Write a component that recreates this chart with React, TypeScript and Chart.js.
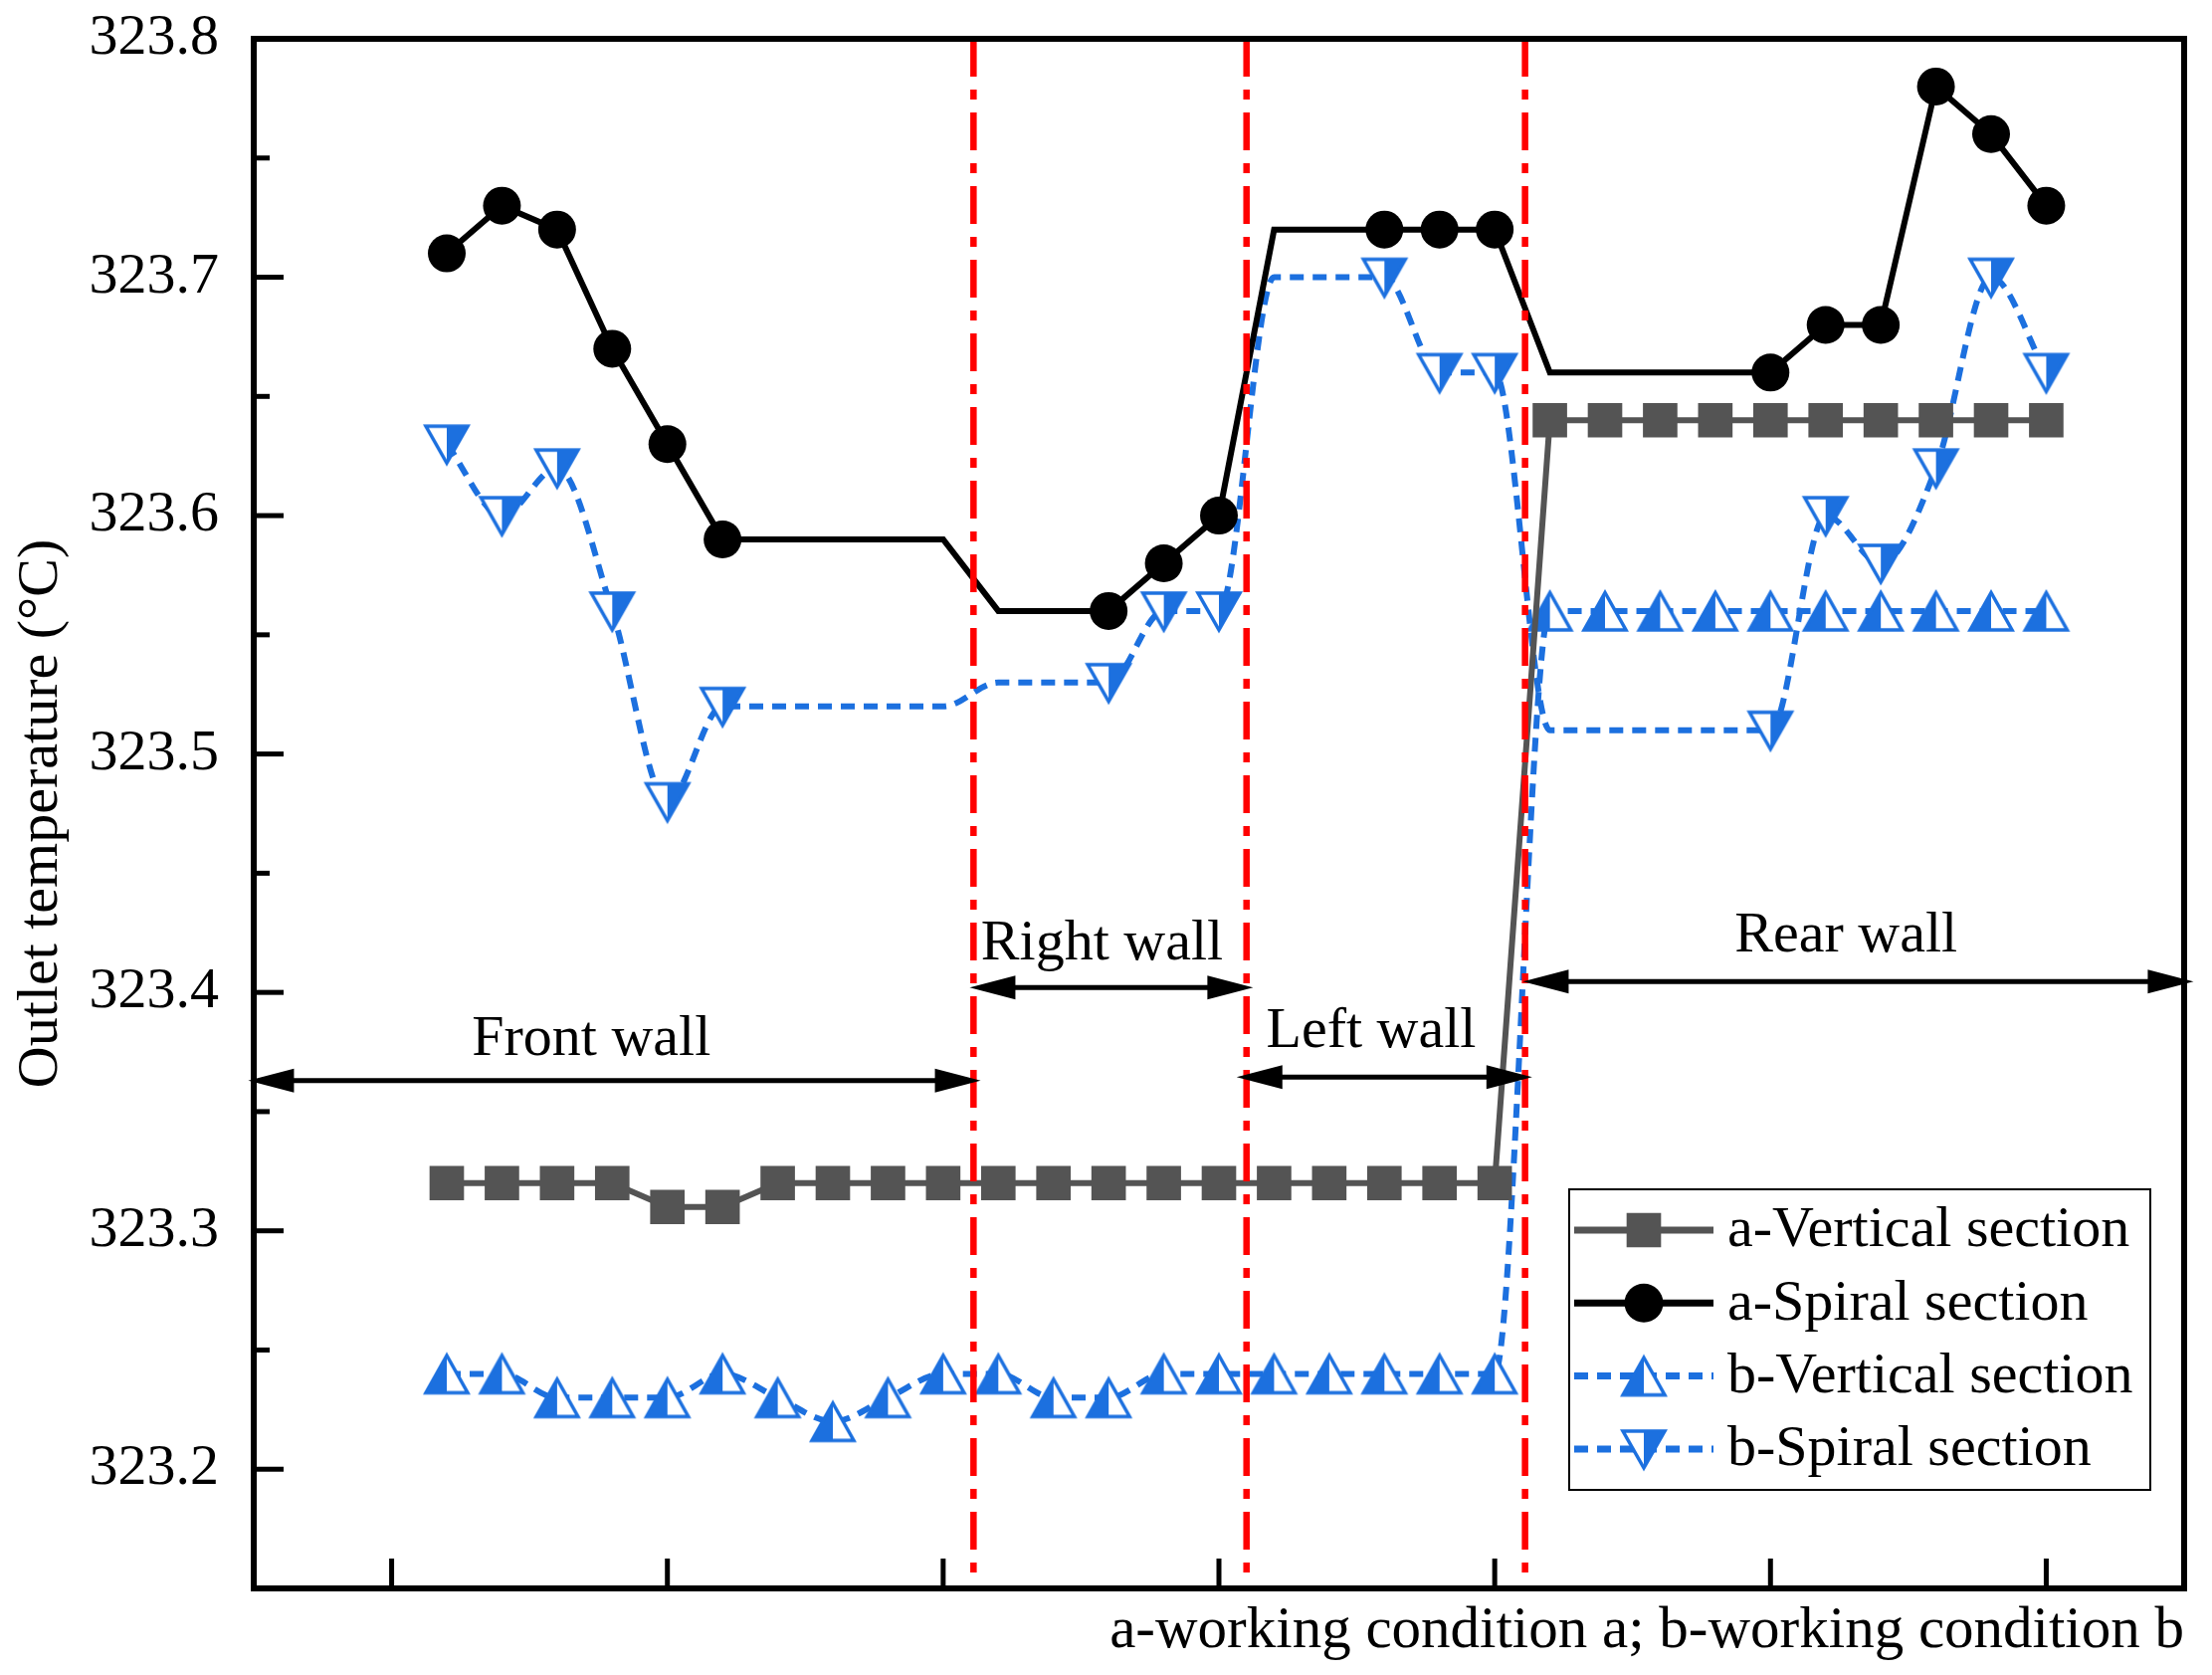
import { useEffect, useRef } from "react";
import { Chart, registerables } from "chart.js";
import { drawPoint } from "chart.js/helpers";

Chart.register(...registerables);

// positions along the furnace perimeter (tube index)
const POSITIONS = [
  1, 2, 3, 4, 5, 6, 7, 8, 9, 10, 11, 12, 13, 14, 15, 16, 17, 18, 19, 20, 21,
  22, 23, 24, 25, 26, 27, 28, 29, 30,
];

const A_VERTICAL = [
  323.32, 323.32, 323.32, 323.32, 323.31, 323.31, 323.32, 323.32, 323.32,
  323.32, 323.32, 323.32, 323.32, 323.32, 323.32, 323.32, 323.32, 323.32,
  323.32, 323.32, 323.64, 323.64, 323.64, 323.64, 323.64, 323.64, 323.64,
  323.64, 323.64, 323.64,
];
const A_SPIRAL = [
  323.71, 323.73, 323.72, 323.67, 323.63, 323.59, 323.59, 323.59, 323.59,
  323.59, 323.56, 323.56, 323.56, 323.58, 323.6, 323.72, 323.72, 323.72,
  323.72, 323.72, 323.66, 323.66, 323.66, 323.66, 323.66, 323.68, 323.68,
  323.78, 323.76, 323.73,
];
const B_VERTICAL = [
  323.24, 323.24, 323.23, 323.23, 323.23, 323.24, 323.23, 323.22, 323.23,
  323.24, 323.24, 323.23, 323.23, 323.24, 323.24, 323.24, 323.24, 323.24,
  323.24, 323.24, 323.56, 323.56, 323.56, 323.56, 323.56, 323.56, 323.56,
  323.56, 323.56, 323.56,
];
const B_SPIRAL = [
  323.63, 323.6, 323.62, 323.56, 323.48, 323.52, 323.52, 323.52, 323.52,
  323.52, 323.53, 323.53, 323.53, 323.56, 323.56, 323.7, 323.7, 323.7, 323.66,
  323.66, 323.51, 323.51, 323.51, 323.51, 323.51, 323.6, 323.58, 323.62, 323.7,
  323.66,
];

// spiral curves have no symbol at these positions
const SPIRAL_UNMARKED = [7, 8, 9, 10, 11, 12, 16, 17, 21, 22, 23, 24];

const Y_TICKS = [323.2, 323.3, 323.4, 323.5, 323.6, 323.7, 323.8];
const Y_MINOR = [323.25, 323.35, 323.45, 323.55, 323.65, 323.75];
const X_TICKS = [0, 5, 10, 15, 20, 25, 30];

// wall sections
const WALL_BOUNDS = [10.55, 15.5, 20.55];
const WALL_NAMES = ["Front wall", "Right wall", "Left wall", "Rear wall"];
const WALL_FROM = [-2.6, 10.48, 15.32, 20.51];
const WALL_TO = [10.68, 15.62, 20.68, 32.67];
const WALL_ARROW_Y = [323.363, 323.402, 323.3645, 323.4046];
const WALL_LABEL_X = [3.62, 12.88, 17.76, 26.37];
const WALL_LABEL_Y = [323.3736, 323.4137, 323.377, 323.417];

const FONT = '"Liberation Serif", "Times New Roman", serif';
const BLUE = "#1c70df";
const GRAY = "#545454";

function halfTriangle(up: boolean) {
  const c = document.createElement("canvas");
  c.width = 50;
  c.height = 48;
  const g = c.getContext("2d")!;
  const top = 5.5;
  const bot = 43;
  const pts = up
    ? [
        [25, top],
        [4, bot],
        [46, bot],
      ]
    : [
        [4, top + 0.5],
        [46, top + 0.5],
        [25, bot],
      ];
  g.beginPath();
  g.moveTo(pts[0][0], pts[0][1]);
  g.lineTo(pts[1][0], pts[1][1]);
  g.lineTo(pts[2][0], pts[2][1]);
  g.closePath();
  g.fillStyle = "#fff";
  g.fill();
  g.beginPath();
  if (up) {
    g.moveTo(25, top);
    g.lineTo(4, bot);
    g.lineTo(25, bot);
  } else {
    g.moveTo(25, top + 0.5);
    g.lineTo(46, top + 0.5);
    g.lineTo(25, bot);
  }
  g.closePath();
  g.fillStyle = BLUE;
  g.fill();
  g.beginPath();
  g.moveTo(pts[0][0], pts[0][1]);
  g.lineTo(pts[1][0], pts[1][1]);
  g.lineTo(pts[2][0], pts[2][1]);
  g.closePath();
  g.strokeStyle = BLUE;
  g.lineWidth = 3.5;
  g.stroke();
  return c;
}

function drawArrow(ctx: CanvasRenderingContext2D, x1: number, x2: number, y: number) {
  const head = 46;
  const half = 12;
  ctx.beginPath();
  ctx.moveTo(x1 + head - 4, y);
  ctx.lineTo(x2 - head + 4, y);
  ctx.stroke();
  ctx.beginPath();
  ctx.moveTo(x1, y);
  ctx.lineTo(x1 + head, y - half);
  ctx.lineTo(x1 + head, y + half);
  ctx.closePath();
  ctx.fill();
  ctx.beginPath();
  ctx.moveTo(x2, y);
  ctx.lineTo(x2 - head, y - half);
  ctx.lineTo(x2 - head, y + half);
  ctx.closePath();
  ctx.fill();
}

const overlay = {
  id: "overlay",
  afterDatasetsDraw(chart: any) {
    const { ctx, chartArea, scales } = chart;
    ctx.save();
    ctx.strokeStyle = "#ff0000";
    ctx.lineWidth = 6.5;
    ctx.setLineDash([38, 13, 10, 13]);
    WALL_BOUNDS.forEach((b) => {
      const px = scales.x.getPixelForValue(b);
      ctx.beginPath();
      ctx.moveTo(px, chartArea.top);
      ctx.lineTo(px, chartArea.bottom);
      ctx.stroke();
    });
    ctx.restore();
  },
  afterDraw(chart: any) {
    const { ctx, chartArea, scales } = chart;
    const xs = scales.x;
    const ys = scales.y;
    ctx.save();

    // wall arrows and names
    ctx.strokeStyle = "#000";
    ctx.fillStyle = "#000";
    ctx.lineWidth = 5;
    ctx.setLineDash([]);
    WALL_NAMES.forEach((name, i) => {
      drawArrow(
        ctx,
        xs.getPixelForValue(WALL_FROM[i]),
        xs.getPixelForValue(WALL_TO[i]),
        ys.getPixelForValue(WALL_ARROW_Y[i])
      );
      ctx.font = `58px ${FONT}`;
      ctx.textAlign = "center";
      ctx.textBaseline = "alphabetic";
      ctx.fillText(
        name,
        xs.getPixelForValue(WALL_LABEL_X[i]),
        ys.getPixelForValue(WALL_LABEL_Y[i])
      );
    });

    // frame and inward ticks
    const { left, right, top, bottom } = chartArea;
    ctx.lineWidth = 6;
    ctx.strokeRect(left, top, right - left, bottom - top);
    ctx.lineWidth = 5;
    Y_TICKS.forEach((v) => {
      const py = ys.getPixelForValue(v);
      ctx.beginPath();
      ctx.moveTo(left, py);
      ctx.lineTo(left + 30, py);
      ctx.stroke();
    });
    Y_MINOR.forEach((v) => {
      const py = ys.getPixelForValue(v);
      ctx.beginPath();
      ctx.moveTo(left, py);
      ctx.lineTo(left + 16, py);
      ctx.stroke();
    });
    X_TICKS.forEach((v) => {
      const px = xs.getPixelForValue(v);
      ctx.beginPath();
      ctx.moveTo(px, bottom);
      ctx.lineTo(px, bottom - 30);
      ctx.stroke();
    });

    // legend
    const L = right - 618;
    const T = bottom - 401;
    ctx.fillStyle = "#fff";
    ctx.fillRect(L, T, 584, 302);
    ctx.strokeStyle = "#000";
    ctx.lineWidth = 2;
    ctx.strokeRect(L, T, 584, 302);
    chart.data.datasets.forEach((ds: any, i: number) => {
      const cy = T + 41 + i * 73.3;
      ctx.save();
      ctx.strokeStyle = ds.borderColor;
      ctx.lineWidth = ds.borderWidth + 1;
      ctx.setLineDash(ds.borderDash || []);
      ctx.beginPath();
      ctx.moveTo(L + 5, cy);
      ctx.lineTo(L + 145, cy);
      ctx.stroke();
      ctx.setLineDash([]);
      ctx.fillStyle = ds.pointBackgroundColor;
      ctx.strokeStyle = ds.pointBorderColor;
      drawPoint(
        ctx,
        {
          pointStyle: ds.pointStyle,
          radius: ds.legendRadius,
          rotation: 0,
          borderWidth: 0,
        },
        L + 75,
        cy
      );
      ctx.restore();
      ctx.fillStyle = "#000";
      ctx.font = `58px ${FONT}`;
      ctx.textAlign = "left";
      ctx.textBaseline = "middle";
      ctx.fillText(ds.label, L + 159, cy + 1);
    });

    ctx.restore();
  },
};

export default function App() {
  const canvasRef = useRef<HTMLCanvasElement | null>(null);

  useEffect(() => {
    document.body.style.margin = "0";
    if (!canvasRef.current) return;
    const ctx = canvasRef.current.getContext("2d");
    if (!ctx) return;

    const upTri = halfTriangle(true);
    const downTri = halfTriangle(false);
    const spiralRadius = (r: number) =>
      POSITIONS.map((p) => (SPIRAL_UNMARKED.includes(p) ? 0 : r));
    const toPoints = (vals: number[]) =>
      POSITIONS.map((p, i) => ({ x: p, y: vals[i] }));

    const chart = new Chart(ctx, {
      type: "line",
      data: {
        datasets: [
          {
            label: "a-Vertical section",
            data: toPoints(A_VERTICAL),
            borderColor: GRAY,
            borderWidth: 6,
            pointStyle: "rect",
            pointRadius: 24.5,
            legendRadius: 24.5,
            pointBackgroundColor: GRAY,
            pointBorderColor: GRAY,
            pointBorderWidth: 0,
            tension: 0,
          } as any,
          {
            label: "a-Spiral section",
            data: toPoints(A_SPIRAL),
            borderColor: "#000",
            borderWidth: 6,
            pointStyle: "circle",
            pointRadius: spiralRadius(19),
            legendRadius: 19.5,
            pointBackgroundColor: "#000",
            pointBorderColor: "#000",
            pointBorderWidth: 0,
            tension: 0,
          } as any,
          {
            label: "b-Vertical section",
            data: toPoints(B_VERTICAL),
            borderColor: BLUE,
            borderWidth: 6,
            borderDash: [14, 9],
            pointStyle: upTri,
            pointRadius: 20,
            legendRadius: 20,
            pointBackgroundColor: BLUE,
            pointBorderColor: BLUE,
            cubicInterpolationMode: "monotone",
          } as any,
          {
            label: "b-Spiral section",
            data: toPoints(B_SPIRAL),
            borderColor: BLUE,
            borderWidth: 6,
            borderDash: [14, 9],
            pointStyle: downTri,
            pointRadius: spiralRadius(20),
            legendRadius: 20,
            pointBackgroundColor: BLUE,
            pointBorderColor: BLUE,
            cubicInterpolationMode: "monotone",
          } as any,
        ],
      },
      options: {
        responsive: true,
        maintainAspectRatio: false,
        animation: false,
        events: [],
        layout: { padding: { top: 39, right: 28, left: 0, bottom: 0 } },
        plugins: {
          legend: { display: false },
          tooltip: { enabled: false },
        },
        scales: {
          x: {
            type: "linear",
            min: -2.5,
            max: 32.5,
            grid: { display: false, drawTicks: false },
            border: { display: false },
            ticks: { display: false },
            title: {
              display: true,
              text: "a-working condition a; b-working condition b",
              align: "end",
              color: "#000",
              font: { family: FONT, size: 59 },
              padding: { top: 0, bottom: 8 },
            },
            afterFit: (scale: any) => {
              scale.height = 87;
              scale.paddingLeft = 0;
              scale.paddingRight = 0;
            },
          },
          y: {
            type: "linear",
            min: 323.15,
            max: 323.8,
            grid: { display: false, drawTicks: false },
            border: { display: false },
            afterBuildTicks: (scale: any) => {
              scale.ticks = Y_TICKS.map((v) => ({ value: v }));
            },
            ticks: {
              color: "#000",
              padding: 35,
              font: { family: FONT, size: 58 },
              callback: (v: any) => Number(v).toFixed(1),
            },
            title: {
              display: true,
              text: "Outlet temperature (°C)",
              color: "#000",
              font: { family: FONT, size: 58 },
              padding: { top: 7, bottom: 0 },
            },
            afterFit: (scale: any) => {
              scale.width = 255;
              scale.paddingTop = 0;
              scale.paddingBottom = 0;
            },
          },
        },
      } as any,
      plugins: [overlay],
    });

    return () => {
      chart.destroy();
    };
  }, []);

  return (
    <div style={{ width: "2223px", height: "1683px", position: "relative" }}>
      <canvas ref={canvasRef}></canvas>
    </div>
  );
}
